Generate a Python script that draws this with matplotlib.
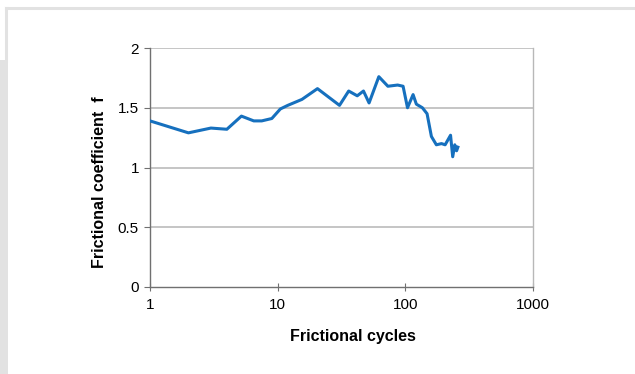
import matplotlib
matplotlib.use("Agg")
from matplotlib import pyplot as plt
from matplotlib.lines import Line2D
from matplotlib.patches import Rectangle

plt.rcParams['font.family'] = ['Liberation Sans', 'DejaVu Sans']

# Frictional cycles and coefficient
cycles = [1, 2, 3, 4, 5.2, 6.5, 7.5, 9, 10.5, 12, 15.5, 20.5, 30.5, 36, 42, 47,
          52, 62, 73, 87, 96, 104, 115, 122, 136, 148, 160, 175, 192, 205,
          226, 235, 244, 252, 258]
coeff = [1.39, 1.29, 1.33, 1.32, 1.43, 1.39, 1.39, 1.41, 1.49, 1.52, 1.57, 1.66,
         1.52, 1.64, 1.60, 1.64, 1.54, 1.76, 1.68, 1.69, 1.68, 1.50, 1.61,
         1.53, 1.50, 1.45, 1.26, 1.19, 1.20, 1.19, 1.27, 1.09, 1.19, 1.14, 1.17]

y_ticks = [0, 0.5, 1, 1.5, 2]
y_tick_labels = ['0', '0.5', '1', '1.5', '2']
x_ticks = [1, 10, 100, 1000]
x_tick_labels = ['1', '10', '100', '1000']

fig = plt.figure(figsize=(6.35, 3.74), dpi=100)

# light grey page frame around the chart
fig.add_artist(Line2D([6 / 635, 1], [1 - 8 / 374, 1 - 8 / 374],
                      transform=fig.transFigure, color='#e2e2e2', lw=2.2))
fig.add_artist(Line2D([6 / 635, 6 / 635], [1 - 8 / 374, 1 - 60 / 374],
                      transform=fig.transFigure, color='#e2e2e2', lw=2.2))
fig.add_artist(Rectangle((0, 0), 8 / 635, 1 - 60 / 374, transform=fig.transFigure,
                         color='#e2e2e2', lw=0))

ax = fig.add_axes([150 / 635, 87 / 374, 383 / 635, 239 / 374])
ax.plot(cycles, coeff, color='#1670be', lw=2.2, zorder=3)

ax.set_xscale('log')
ax.set_xlim(1, 1000)
ax.set_ylim(0, 2)
ax.set_xticks(x_ticks)
ax.set_xticklabels(x_tick_labels)
ax.set_yticks(y_ticks)
ax.set_yticklabels(y_tick_labels)
ax.minorticks_off()

for y in y_ticks[1:]:
    ax.axhline(y, color='#c0c0c0', lw=1.3, zorder=1)

ax.spines['top'].set_visible(False)
ax.spines['right'].set_color('#b8b8b8')
ax.spines['right'].set_linewidth(1.0)
ax.spines['left'].set_color('#707070')
ax.spines['bottom'].set_color('#707070')
ax.spines['left'].set_linewidth(1.0)
ax.spines['bottom'].set_linewidth(1.0)

ax.tick_params(axis='x', which='major', direction='inout', length=6,
               color='#707070', labelsize=11, pad=5)
ax.tick_params(axis='y', which='major', direction='out', length=4,
               color='#707070', labelsize=11, pad=4)

ax.set_xlabel('Frictional cycles', fontsize=11.5, fontweight='bold')
ax.set_ylabel('Frictional coefficient  f', fontsize=11.5, fontweight='bold')
# Excel placed the titles a little off-centre
ax.xaxis.set_label_coords(0.53, -0.175)
ax.yaxis.set_label_coords(-0.112, 0.44)

fig.savefig('out.png', dpi=100)
